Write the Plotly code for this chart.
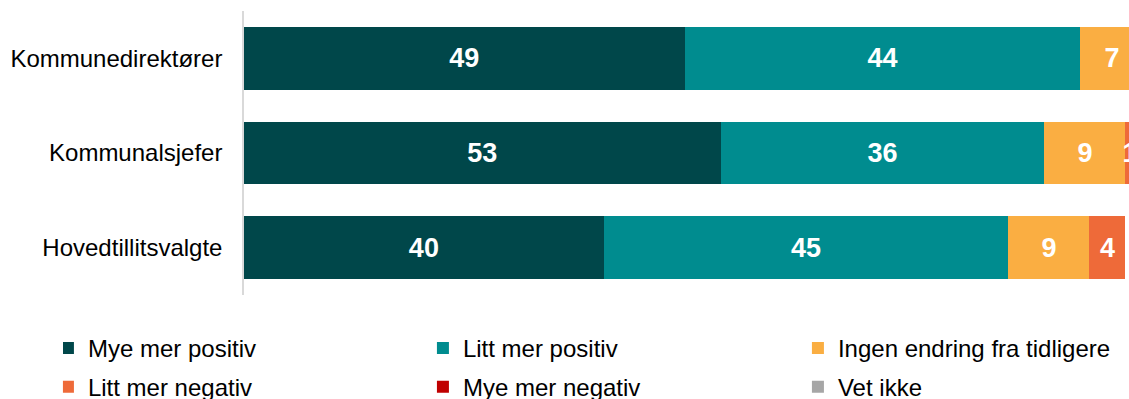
import plotly.graph_objects as go

categories = ["Kommunedirektører", "Kommunalsjefer", "Hovedtillitsvalgte"]
series_names = ["Mye mer positiv", "Litt mer positiv", "Ingen endring fra tidligere",
                "Litt mer negativ", "Mye mer negativ", "Vet ikke"]
mye_mer_positiv = [49, 53, 40]
litt_mer_positiv = [44, 36, 45]
ingen_endring = [7, 9, 9]
litt_mer_negativ = [0, 1, 4]
mye_mer_negativ = [0, 0, 0]
vet_ikke = [0, 0, 0]
colors = ["#00474A", "#008C8F", "#FAAE42", "#EE6A39", "#C00000", "#A6A6A6"]

all_values = [mye_mer_positiv, litt_mer_positiv, ingen_endring,
              litt_mer_negativ, mye_mer_negativ, vet_ikke]
legend_rows = ["legend", "legend", "legend", "legend2", "legend2", "legend2"]

FONT = "Arial, Liberation Sans, sans-serif"

fig = go.Figure()
for name, vals, col, lg in zip(series_names, all_values, colors, legend_rows):
    fig.add_trace(go.Bar(
        y=categories, x=vals, name=name, orientation="h",
        marker=dict(color=col, line=dict(width=0)),
        text=[str(v) if v > 0 else "" for v in vals],
        textposition="inside", insidetextanchor="middle",
        constraintext="none", textangle=0,
        textfont=dict(family=FONT, size=27, color="white", weight="bold"),
        hoverinfo="skip", legend=lg,
    ))

legend_common = dict(orientation="h", xanchor="left", yanchor="top",
                     entrywidth=345, entrywidthmode="pixels", indentation=-15,
                     font=dict(family=FONT, size=24, color="#000000"),
                     traceorder="normal", bgcolor="rgba(0,0,0,0)")

fig.update_layout(
    barmode="stack",
    width=1129, height=399,
    margin=dict(l=244, r=0, t=10.5, b=103.5, pad=0, autoexpand=False),
    plot_bgcolor="white", paper_bgcolor="white",
    bargap=0.337,
    font=dict(family=FONT, size=24, color="#000000"),
    xaxis=dict(range=[0, 98.4], showgrid=False, zeroline=False,
               showticklabels=False, showline=False, fixedrange=True),
    yaxis=dict(categoryorder="array", categoryarray=categories,
               autorange="reversed", showgrid=False, zeroline=False,
               showline=True, linecolor="#D9D9D9", linewidth=1.5,
               ticks="", ticklabelstandoff=15, fixedrange=True,
               tickfont=dict(family=FONT, size=24, color="#000000")),
    legend=dict(x=-0.2046, y=-0.1088, **legend_common),
    legend2=dict(x=-0.2046, y=-0.2456, **legend_common),
    showlegend=True,
)

fig.write_html("out.html", config={"displayModeBar": False},
               post_script="document.body.style.margin='0';document.body.style.overflow='hidden';")
